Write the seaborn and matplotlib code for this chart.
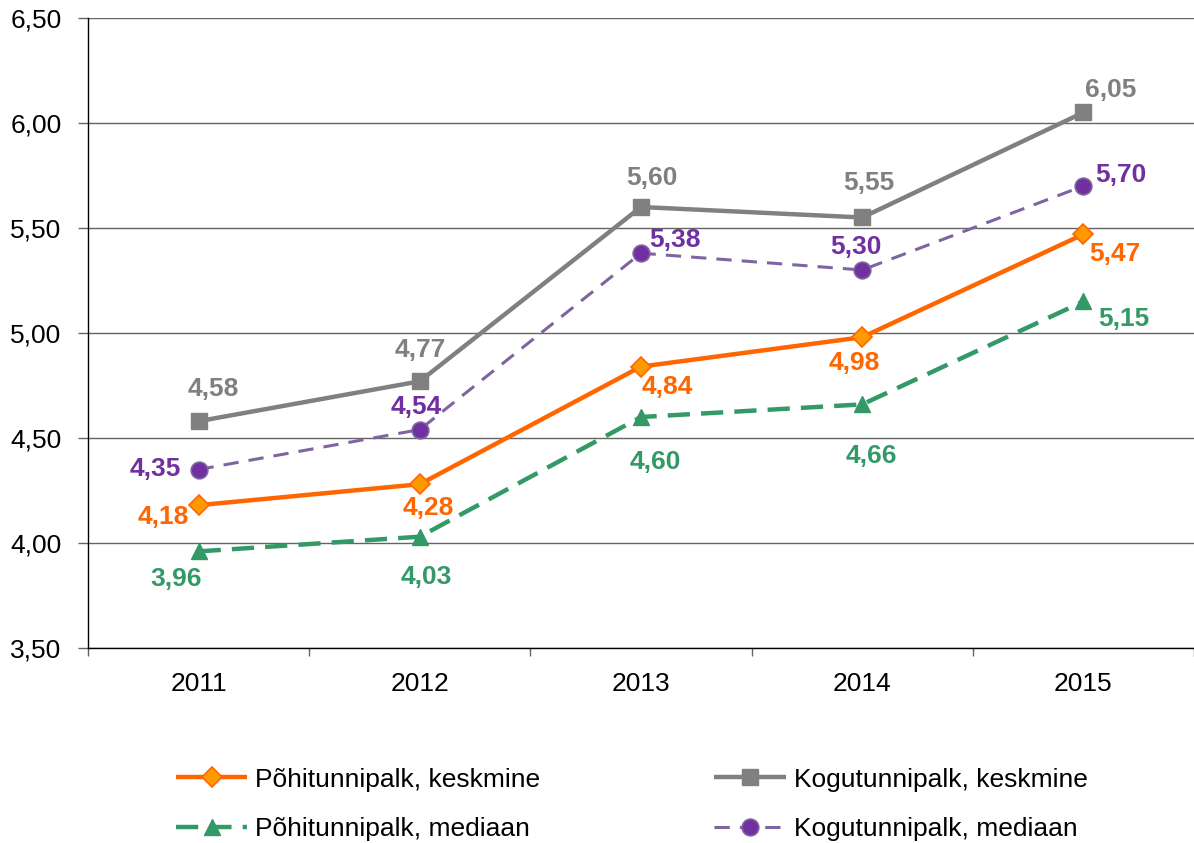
import pandas as pd
import matplotlib
matplotlib.use("Agg")
import matplotlib.pyplot as plt
import seaborn as sns
from matplotlib.ticker import FuncFormatter, FixedLocator

# andmed
years = [2011, 2012, 2013, 2014, 2015]
pohi_keskmine = [4.18, 4.28, 4.84, 4.98, 5.47]
kogu_keskmine = [4.58, 4.77, 5.60, 5.55, 6.05]
pohi_mediaan = [3.96, 4.03, 4.60, 4.66, 5.15]
kogu_mediaan = [4.35, 4.54, 5.38, 5.30, 5.70]

series_names = [
    "Põhitunnipalk, keskmine",
    "Põhitunnipalk, mediaan",
    "Kogutunnipalk, keskmine",
    "Kogutunnipalk, mediaan",
]
series_values = [pohi_keskmine, pohi_mediaan, kogu_keskmine, kogu_mediaan]

sns.set_theme(style="white")
plt.rcParams['font.family'] = ['Liberation Sans', 'DejaVu Sans']
plt.rcParams['text.color'] = 'black'
plt.rcParams['xtick.color'] = 'black'
plt.rcParams['ytick.color'] = 'black'

# joonte stiilid
styles = {
    "Põhitunnipalk, keskmine": dict(color="#FF6600", lw=3.2, marker="D", ms=10,
                                    mfc="#FF9900", mec="#FF6600", mew=1.2, dashes=None, label_color="#FF6600"),
    "Põhitunnipalk, mediaan": dict(color="#339966", lw=3.2, marker="^", ms=12,
                                   mfc="#339966", mec="#339966", mew=1, dashes=(5, 2.5), label_color="#339966"),
    "Kogutunnipalk, keskmine": dict(color="#808080", lw=3.2, marker="s", ms=11,
                                    mfc="#808080", mec="#808080", mew=1, dashes=None, label_color="#808080"),
    "Kogutunnipalk, mediaan": dict(color="#8064A2", lw=2.2, marker="o", ms=12,
                                   mfc="#7030A0", mec="#8064A2", mew=1.2, dashes=(5, 3.3), label_color="#7030A0"),
}

# siltide nihked pikslites
offsets = {
    "Põhitunnipalk, keskmine": [(-35, -12), (9, -24), (26, -20), (-8, -26), (31, -20)],
    "Põhitunnipalk, mediaan": [(-23, -28), (7, -40), (14, -45), (9, -52), (40, -18)],
    "Kogutunnipalk, keskmine": [(15, 32), (0, 31), (11, 29), (7, 34), (27, 22)],
    "Kogutunnipalk, mediaan": [(-43, 0), (-4, 23), (34, 13), (-6, 23), (37, 11)],
}

df = pd.DataFrame({"aasta": years * len(series_names),
                   "palk": sum(series_values, []),
                   "seeria": [n for n in series_names for _ in years]})

fig = plt.figure(figsize=(11.94, 8.43), dpi=100)
ax = fig.add_axes([88 / 1194, 1 - 648 / 843, 1 - 88 / 1194, (648 - 18) / 843])

ax.yaxis.grid(True, color="#646464", lw=1)
ax.set_axisbelow(True)

handles = []
for name in series_names:
    st = styles[name]
    sub = df[df["seeria"] == name]
    sns.lineplot(data=sub, x="aasta", y="palk", ax=ax, color=st["color"], lw=st["lw"],
                 marker=st["marker"], markersize=st["ms"], markerfacecolor=st["mfc"],
                 markeredgecolor=st["mec"], markeredgewidth=st["mew"], label=name, legend=False)
    line = ax.lines[-1]
    if st["dashes"] is not None:
        line.set_dashes(st["dashes"])
    line.set_solid_capstyle("butt")
    handles.append(line)
    for x, y, (dx, dy) in zip(sub["aasta"], sub["palk"], offsets[name]):
        ax.annotate(f"{y:.2f}".replace(".", ","), (x, y), xytext=(dx, dy),
                    textcoords="offset pixels", ha="center", va="center",
                    fontsize=19, fontweight="bold", color=st["label_color"])

ax.set_xlim(2010.5, 2015.5)
ax.set_ylim(3.5, 6.5)
ax.set_yticks([3.5, 4.0, 4.5, 5.0, 5.5, 6.0, 6.5])
ax.yaxis.set_major_formatter(FuncFormatter(lambda v, p: f"{v:.2f}".replace(".", ",")))
ax.set_xticks(years)
ax.set_xticklabels([str(y) for y in years])
ax.xaxis.set_minor_locator(FixedLocator([2010.5, 2011.5, 2012.5, 2013.5, 2014.5, 2015.5]))
ax.tick_params(axis="x", which="major", length=0, pad=17, labelsize=19)
ax.tick_params(axis="x", which="minor", length=6, width=1, color="#646464", bottom=True)
ax.tick_params(axis="y", which="major", length=7, width=1, color="#646464", left=True, labelsize=19, pad=12)
ax.set_xlabel("")
ax.set_ylabel("")

for side in ["top", "right"]:
    ax.spines[side].set_visible(False)
for side in ["left", "bottom"]:
    ax.spines[side].set_color("black")
    ax.spines[side].set_linewidth(1)

fig.legend(handles=handles, labels=series_names, loc="center", ncol=2,
           bbox_to_anchor=(0.529, 0.046), frameon=False, fontsize=19,
           handlelength=2.7, columnspacing=6.6, labelspacing=0.95, handletextpad=0.3)

fig.savefig("out.png", dpi=100)
